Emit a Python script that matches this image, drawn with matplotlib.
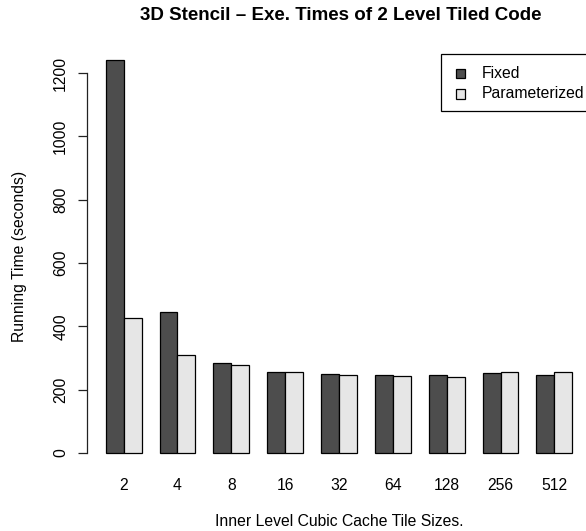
import matplotlib
matplotlib.use("Agg")
import matplotlib.pyplot as plt
from matplotlib.patches import Rectangle
import numpy as np

plt.rcParams['font.family'] = ['Liberation Sans', 'DejaVu Sans']

tile_sizes = ["2", "4", "8", "16", "32", "64", "128", "256", "512"]
fixed = [1240, 444, 283, 256, 249, 245, 245, 252, 245]
parameterized = [426, 311, 277, 256, 248, 243, 240, 257, 255]
series_names = ["Fixed", "Parameterized"]
series_colors = ['#4d4d4d', '#e6e6e6']

W, H = 586, 531
fig = plt.figure(figsize=(W / 100, H / 100), dpi=100)

FS = 11.3      # ~15.7 px
FS_TITLE = 13.5

def fx(x):
    return x / W

def fy(y):
    return 1 - y / H

# plot region in pixel coordinates (from top-left)
left_px, right_px = 87, 591
top_px, bottom_px = 44.8, 468.7
ax = fig.add_axes([fx(left_px), fy(bottom_px),
                   (right_px - left_px) / W, (bottom_px - top_px) / H])

idx = np.arange(len(tile_sizes))
x_fixed = 1 + 3 * idx
x_param = 2 + 3 * idx
ax.bar(x_fixed, fixed, width=1, align='edge', color=series_colors[0],
       edgecolor='black', linewidth=0.9, label=series_names[0], clip_on=False)
ax.bar(x_param, parameterized, width=1, align='edge', color=series_colors[1],
       edgecolor='black', linewidth=0.9, label=series_names[1], clip_on=False)

ax.set_xlim(-0.04, 28.04)
ax.set_ylim(-49.6, 1289.6)

for s in ['top', 'right', 'bottom']:
    ax.spines[s].set_visible(False)
ax.spines['left'].set_bounds(0, 1200)
ax.spines['left'].set_linewidth(0.9)
ax.spines['left'].set_color('#222222')

ax.set_yticks(np.arange(0, 1201, 200))
ax.tick_params(axis='y', length=6.5, width=0.9, color='#222222', pad=7,
               labelsize=FS)
for lab in ax.get_yticklabels():
    lab.set_rotation(90)
    lab.set_va('center')

ax.set_xticks(x_param)
ax.set_xticklabels(tile_sizes)
ax.tick_params(axis='x', length=0, pad=6.9, labelsize=FS)

fig.text(fx(341), fy(20.5), "3D Stencil \u2013 Exe. Times of 2 Level Tiled Code",
         ha='center', va='baseline', fontsize=FS_TITLE, fontweight='bold')

ax.set_xlabel("Inner Level Cubic Cache Tile Sizes.", fontsize=FS)
ax.xaxis.set_label_coords(0.5, (bottom_px - 526.5) / (bottom_px - top_px))
ax.xaxis.label.set_va('baseline')

ax.set_ylabel("Running Time (seconds)", fontsize=FS)
ax.yaxis.set_label_coords((19.5 - left_px) / (right_px - left_px), 0.5)
ax.yaxis.label.set_va('center')

# legend box (R style, top-right, clipped by the figure edge)
box = Rectangle((fx(441), fy(111)), fx(591) - fx(441), fy(54) - fy(111),
                transform=fig.transFigure, facecolor='white',
                edgecolor='black', linewidth=0.9)
fig.add_artist(box)
row_y = [73, 94]
for name, col, yc in zip(series_names, series_colors, row_y):
    sq = Rectangle((fx(456), fy(yc + 4.5)), fx(465) - fx(456), fy(yc - 4.5) - fy(yc + 4.5),
                   transform=fig.transFigure, facecolor=col,
                   edgecolor='black', linewidth=0.9)
    fig.add_artist(sq)
    fig.text(fx(481.5), fy(yc), name, ha='left', va='center', fontsize=FS)

fig.savefig("out.png", dpi=100)
